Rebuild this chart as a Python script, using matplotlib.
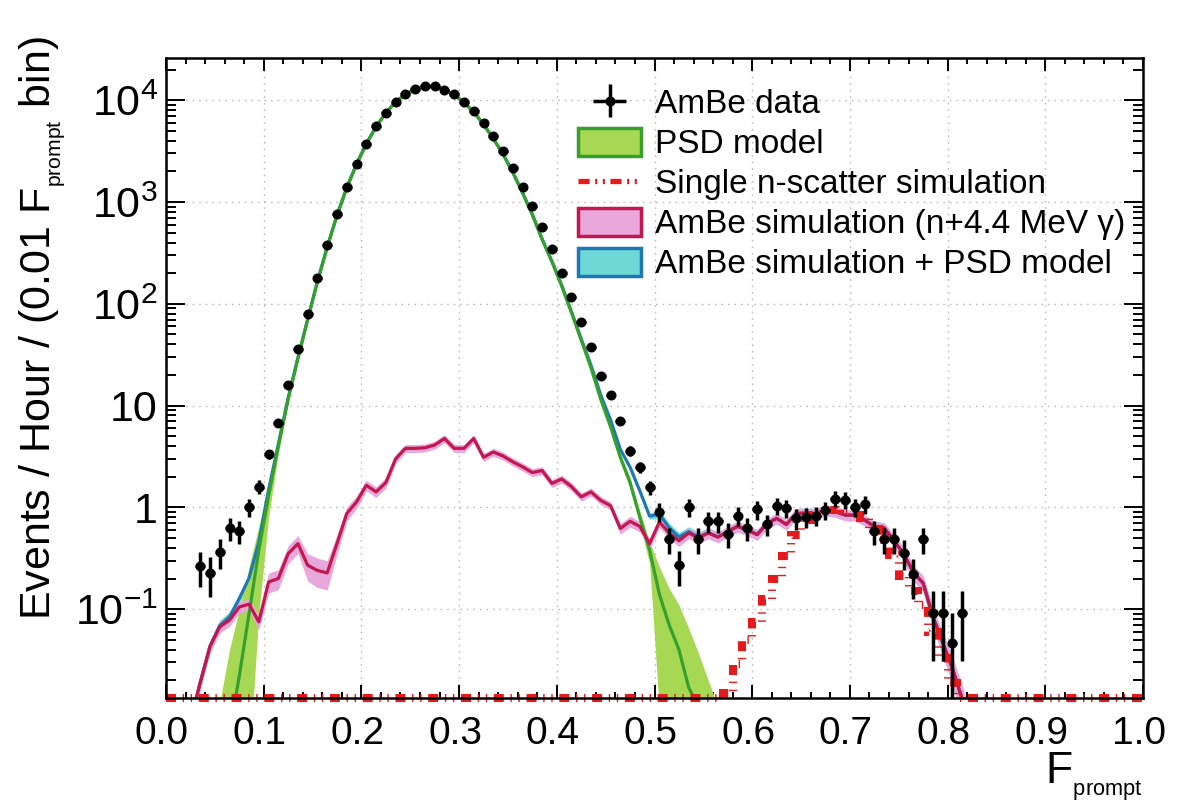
import numpy as np
import matplotlib
matplotlib.use('Agg')
import matplotlib.pyplot as plt
from matplotlib.patches import Patch
from matplotlib.lines import Line2D
from matplotlib.transforms import ScaledTranslation
from matplotlib.ticker import FixedLocator, FixedFormatter, NullFormatter

plt.rcParams['font.family'] = ['Liberation Sans', 'DejaVu Sans']
plt.rcParams['mathtext.fontset'] = 'custom'
plt.rcParams['mathtext.rm'] = 'Liberation Sans'
plt.rcParams['mathtext.it'] = 'Liberation Sans:italic'
plt.rcParams['mathtext.bf'] = 'Liberation Sans:bold'
plt.rcParams['lines.scale_dashes'] = False

# ---------------- data ----------------
BIN = 0.01
YMIN, YMAX = 0.0134, 2.6e4

data_x0 = 0.035
data_y = [0.264, 0.227, 0.366, 0.63, 0.585, 1.0, 1.6, 3.33, 6.67, 16.1,
          35.8, 80, 181, 382, 764, 1406, 2388, 3757, 5555, 7570,
          9710, 11470, 12830, 13730, 13730, 12740, 11400, 9620, 7800, 5990,
          4430, 3150, 2160, 1406, 916, 569, 349, 201, 117, 66.4,
          37.7, 19.5, 12.6, 7.1, 3.6, 2.5, 1.58, 0.91, 0.49, 0.27,
          1.0, 0.49, 0.73, 0.73, 0.55, 0.83, 0.63, 0.96, 0.68, 1.04,
          0.99, 0.78, 0.81, 0.83, 0.94, 1.22, 1.18, 1.0, 1.07, 0.58,
          0.49, 0.49, 0.36, 0.22, 0.49, 0.091, 0.091, 0.046, 0.091]
data_err = [0.10, 0.095, 0.12, 0.16, 0.15, 0.20, 0.25, 0.36, 0.52, 0.8,
            1.2, 1.8, 2.7, 3.9, 5.5, 7.5, 9.8, 12, 15, 17,
            20, 21, 23, 23, 23, 23, 21, 20, 18, 15,
            13, 11, 9.3, 7.5, 6.1, 4.8, 3.7, 2.8, 2.2, 1.6,
            1.2, 0.88, 0.71, 0.53, 0.38, 0.32, 0.25, 0.19, 0.14, 0.10,
            0.2, 0.14, 0.17, 0.17, 0.15, 0.18, 0.16, 0.2, 0.16, 0.2,
            0.2, 0.18, 0.18, 0.18, 0.19, 0.22, 0.22, 0.2, 0.21, 0.15,
            0.14, 0.14, 0.12, 0.094, 0.14, 0.06, 0.06, 0.046, 0.06]

# PSD model (green)
green_x0 = 0.055
green_y = [0.002, 0.006, 0.022, 0.09, 0.38, 1.3, 4.0, 11.5, 29, 70,
           165, 360, 740, 1380, 2360, 3720, 5500, 7500, 9650, 11400,
           12750, 13650, 13650, 12700, 11300, 9500, 7650, 5800, 4200, 2950,
           1950, 1230, 750, 430, 260, 150, 82, 44, 23.5, 11.5,
           6.2, 3.1, 1.75, 0.8, 0.38, 0.14, 0.07, 0.04, 0.017, 0.011,
           0.005, 0.002]
green_lo = [0.0005, 0.001, 0.001, 0.003, 0.09, 0.8, 3.4, 10.8, 27.5, 67,
            160, 350, 720, 1340, 2290, 3610, 5340, 7280, 9360, 11060,
            12370, 13240, 13240, 12320, 10960, 9220, 7420, 5630, 4070, 2860,
            1890, 1190, 725, 415, 250, 144, 78, 41.5, 22, 10.7,
            5.7, 2.8, 1.55, 0.68, 0.28, 0.01, 0.005, 0.003, 0.002, 0.001,
            0.001, 0.001]
green_hi = [0.012, 0.04, 0.1, 0.26, 0.65, 1.75, 4.7, 12.3, 30.5, 73,
            170, 370, 760, 1420, 2430, 3830, 5660, 7720, 9940, 11740,
            13130, 14060, 14060, 13080, 11640, 9790, 7880, 5970, 4330, 3040,
            2010, 1270, 775, 445, 270, 156, 86, 46.5, 25, 12.3,
            6.7, 3.4, 1.95, 0.92, 0.46, 0.26, 0.16, 0.11, 0.065, 0.037,
            0.02, 0.011]

# AmBe simulation (n + 4.4 MeV gamma), pink
pink_x0 = 0.025
pink_y = [0.008, 0.019, 0.043, 0.067, 0.078, 0.105, 0.112, 0.075, 0.185, 0.20,
          0.35, 0.44, 0.27, 0.24, 0.227, 0.44, 0.87, 1.13, 1.65, 1.42,
          1.75, 3.0, 3.8, 3.8, 3.85, 4.1, 4.75, 3.8, 3.8, 4.75,
          3.1, 3.5, 3.2, 2.8, 2.5, 2.2, 2.3, 1.72, 1.9, 1.6,
          1.27, 1.42, 1.17, 1.04, 0.62, 0.73, 0.65, 0.44, 0.72, 0.56,
          0.47, 0.56, 0.50, 0.56, 0.51, 0.58, 0.65, 0.60, 0.54, 0.69,
          0.78, 0.68, 0.87, 0.88, 0.87, 0.94, 0.91, 0.84, 0.84, 0.75,
          0.65, 0.63, 0.47, 0.35, 0.23, 0.18, 0.084, 0.047, 0.026, 0.013,
          0.006]
pink_rel = [0.15, 0.15, 0.14, 0.13, 0.13, 0.13, 0.13, 0.16, 0.22, 0.22,
            0.20, 0.20, 0.30, 0.32, 0.32, 0.22, 0.16, 0.14, 0.12, 0.12,
            0.12, 0.10, 0.09, 0.09, 0.09, 0.09, 0.09, 0.09, 0.09, 0.09,
            0.09, 0.09, 0.09, 0.09, 0.09, 0.09, 0.09, 0.09, 0.09, 0.09,
            0.09, 0.09, 0.09, 0.09, 0.12, 0.12, 0.12, 0.12, 0.12, 0.12,
            0.12, 0.12, 0.12, 0.12, 0.12, 0.12, 0.12, 0.12, 0.12, 0.12,
            0.12, 0.12, 0.12, 0.12, 0.12, 0.12, 0.12, 0.12, 0.12, 0.12,
            0.12, 0.12, 0.14, 0.15, 0.17, 0.18, 0.22, 0.25, 0.30, 0.35,
            0.40]

# Single n-scatter simulation (red step histogram), nonzero bins
red_x0 = 0.575
red_y = [0.0149, 0.029, 0.05, 0.075, 0.125, 0.20, 0.33, 0.53, 0.75, 0.85,
         0.93, 0.95, 0.97, 0.95, 0.78, 0.62, 0.48, 0.34, 0.21, 0.15,
         0.11, 0.06, 0.033, 0.019]

x_ticks = [0.0, 0.1, 0.2, 0.3, 0.4, 0.5, 0.6, 0.7, 0.8, 0.9, 1.0]
x_ticklabels = ['0.0', '0.1', '0.2', '0.3', '0.4', '0.5', '0.6', '0.7', '0.8', '0.9', '1.0']
y_ticks = [0.1, 1, 10, 100, 1000, 10000]
y_ticklabels = [r'$10^{-1}$', '1', '10', r'$10^{2}$', r'$10^{3}$', r'$10^{4}$']

# ---------------- colours ----------------
GREEN_LINE = '#35a02c'
GREEN_FILL = '#a6d854'
PINK_LINE = '#c4164f'
PINK_FILL = '#e8a8dc'
BLUE_LINE = '#1f78b4'
CYAN_FILL = '#6dd8d6'
RED = '#e41a1c'

# ---------------- derived arrays ----------------
data_y = np.array(data_y)
data_err = np.array(data_err)
data_x = data_x0 + BIN * np.arange(len(data_y))
green_y = np.array(green_y); green_lo = np.array(green_lo); green_hi = np.array(green_hi)
green_x = green_x0 + BIN * np.arange(len(green_y))
pink_y = np.array(pink_y); pink_rel = np.array(pink_rel)
pink_x = pink_x0 + BIN * np.arange(len(pink_y))

off = int(round((green_x0 - pink_x0) / BIN))
sum_y = pink_y.copy()
sum_y[off:off + len(green_y)] += green_y
sum_lo = pink_y * (1 - pink_rel)
sum_hi = pink_y * (1 + pink_rel)
sum_lo[off:off + len(green_y)] += green_y
sum_hi[off:off + len(green_y)] += green_y

edges = np.round(np.arange(0, 1.0 + BIN / 2, BIN), 4)
red_full = np.zeros(len(edges) - 1)
r0 = int(round(red_x0 / BIN - 0.5))
red_full[r0:r0 + len(red_y)] = red_y
red_plot = np.clip(red_full, YMIN, None)

# ---------------- figure ----------------
W, H = 1182, 805
fig = plt.figure(figsize=(W / 100, H / 100), dpi=100)
L, R, T, B = 166, 1143, 58, 698
ax = fig.add_axes([L / W, 1 - B / H, (R - L) / W, (B - T) / H])
ax.set_yscale('log')
ax.set_xlim(0, 1)
ax.set_ylim(YMIN, YMAX)
ax.set_axisbelow(True)

ax.fill_between(pink_x, sum_lo, sum_hi, color=CYAN_FILL, lw=0, zorder=1)
ax.fill_between(green_x, green_lo, green_hi, color=GREEN_FILL, lw=0, zorder=2)
ax.fill_between(pink_x, pink_y * (1 - pink_rel), pink_y * (1 + pink_rel),
                color=PINK_FILL, lw=0, zorder=3)
ax.plot(pink_x, sum_y, color=BLUE_LINE, lw=2.3, zorder=4)
ax.plot(green_x, green_y, color=GREEN_LINE, lw=2.3, zorder=5)
ax.plot(pink_x, pink_y, color=PINK_LINE, lw=2.3, zorder=6)

# red step histogram
red_ls = (0, (7.2, 4.8, 1.0, 4.8, 1.0, 4.8))
ax.plot(edges, np.append(red_plot, red_plot[-1]), drawstyle='steps-post',
        color=RED, lw=5.8, linestyle=red_ls, dash_capstyle='butt',
        dash_joinstyle='miter', clip_on=False, zorder=7)

# data
lo_err = np.minimum(data_err, data_y * 0.999)
eb = ax.errorbar(data_x, data_y, xerr=BIN / 2, yerr=[lo_err, data_err], fmt='o',
                 color='black', ms=6.2, elinewidth=2.5, capsize=0, zorder=10)

# ticks / grid
ax.xaxis.set_major_locator(FixedLocator(x_ticks))
ax.xaxis.set_major_formatter(FixedFormatter(x_ticklabels))
ax.xaxis.set_minor_locator(FixedLocator(np.arange(0, 1.0001, 0.02)))
ax.yaxis.set_major_locator(FixedLocator(y_ticks))
ax.yaxis.set_major_formatter(FixedFormatter(y_ticklabels))
minor_y = [m * 10.0 ** e for e in range(-2, 5) for m in range(2, 10)]
ax.yaxis.set_minor_locator(FixedLocator(minor_y))
ax.yaxis.set_minor_formatter(NullFormatter())
ax.tick_params(which='both', direction='in', top=True, right=True, width=1.4, colors='black')
ax.tick_params(axis='x', which='major', length=9.5, labelsize=28, pad=13)
ax.tick_params(axis='x', which='minor', length=4.5)
ax.tick_params(axis='y', which='major', length=14, labelsize=31, pad=6)
ax.tick_params(axis='y', which='minor', length=7)
shift = ScaledTranslation(-4 / 100, 0, fig.dpi_scale_trans)
for lab in ax.get_xticklabels():
    lab.set_transform(lab.get_transform() + shift)
for s in ax.spines.values():
    s.set_linewidth(1.8)
    s.set_zorder(20)
ax.grid(True, which='major', color='#bdbdbd', lw=1.0, linestyle=(0, (1.2, 3.5)))

# axis titles
fig.text(R / W, 1 - 803 / H, r'F$_{{}_{\mathrm{prompt}}}$', ha='right', va='bottom', fontsize=32)
fig.text(18 / W, 1 - 36 / H, r'Events / Hour / (0.01 F$_{{}_{\mathrm{prompt}}}$ bin)',
         rotation=90, ha='left', va='top', fontsize=31)

# legend
handles = [eb,
           Patch(facecolor=GREEN_FILL, edgecolor=GREEN_LINE, lw=2.5),
           Line2D([], [], color=RED, lw=3.8, linestyle=(0, (8, 4, 1.5, 4, 1.5, 4)),
                  dash_capstyle='butt'),
           Patch(facecolor=PINK_FILL, edgecolor=PINK_LINE, lw=2.5),
           Patch(facecolor=CYAN_FILL, edgecolor=BLUE_LINE, lw=2.5)]
labels = ['AmBe data', 'PSD model', 'Single n-scatter simulation',
          'AmBe simulation (n+4.4 MeV γ)', 'AmBe simulation + PSD model']
ax.legend(handles, labels, loc='upper left', bbox_to_anchor=(578 / W, 1 - 88 / H),
          bbox_transform=fig.transFigure, frameon=False, fontsize=24,
          handlelength=1.9, handleheight=0.9, handletextpad=0.42,
          labelspacing=0.23, borderpad=0, borderaxespad=0)

fig.savefig('out.png', dpi=100)
